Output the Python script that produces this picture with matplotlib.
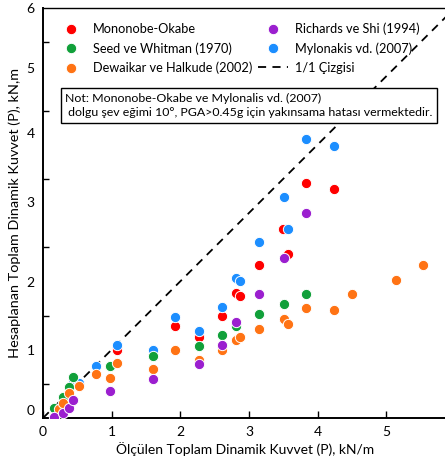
import matplotlib.pyplot as plt
from matplotlib.lines import Line2D

plt.rcParams['font.family'] = ['Lato', 'DejaVu Sans']

mo_x = [1.08, 1.92, 2.27, 2.61, 2.81, 2.87, 3.14, 3.50, 3.57, 3.83, 4.24]
mo_y = [1.00, 1.35, 1.19, 1.49, 1.83, 1.79, 2.24, 2.77, 2.40, 3.44, 3.35]

my_x = [0.44, 0.52, 0.77, 1.08, 1.60, 1.92, 2.27, 2.61, 2.81, 2.87, 3.14, 3.51, 3.57, 3.83, 4.24]
my_y = [0.53, 0.51, 0.76, 1.07, 1.00, 1.48, 1.27, 1.63, 2.05, 2.01, 2.58, 3.24, 2.77, 4.08, 3.98]

sw_x = [0.16, 0.29, 0.38, 0.44, 0.98, 1.60, 2.27, 2.61, 2.81, 3.14, 3.51, 3.83]
sw_y = [0.15, 0.31, 0.45, 0.60, 0.76, 0.91, 1.05, 1.22, 1.35, 1.52, 1.67, 1.82]

dh_x = [0.23, 0.29, 0.38, 0.52, 0.77, 0.98, 1.08, 1.60, 1.92, 2.27, 2.61, 2.81, 2.87,
        3.14, 3.51, 3.57, 3.83, 4.24, 4.50, 5.14, 5.53]
dh_y = [0.13, 0.22, 0.37, 0.47, 0.64, 0.59, 0.81, 0.72, 1.00, 0.85, 1.00, 1.14, 1.19,
        1.30, 1.45, 1.38, 1.61, 1.58, 1.81, 2.02, 2.24]

rs_x = [0.16, 0.29, 0.38, 0.44, 0.98, 1.60, 2.27, 2.61, 2.81, 3.14, 3.51, 3.83]
rs_y = [0.01, 0.07, 0.15, 0.26, 0.40, 0.57, 0.79, 1.07, 1.41, 1.82, 2.34, 3.00]

# y labels sit slightly off the integer values in the original
ytick_pos = [0.12, 1.0, 1.99, 3.16, 4.17, 5.12, 6.0]
ytick_lab = ["0", "1", "2", "3", "4", "5", "6"]
xtick_pos = [0, 1, 2, 3, 4, 5]

red = "#FF0000"
green = "#11A03A"
orange = "#FF7314"
purple = "#9B1FCF"
blue = "#1C8EFF"

fig = plt.figure(figsize=(4.45, 4.63), dpi=100)
ax = fig.add_axes([43 / 445, 45 / 463, 405 / 445, 410 / 463])

ax.plot([0, 6], [0, 6], ls=(0, (4.5, 3.5)), color="black", lw=1.3, zorder=1)

kw = dict(s=55, edgecolors="white", linewidths=0.7)
ax.scatter(mo_x, mo_y, color=red, zorder=2, **kw)
ax.scatter(my_x, my_y, color=blue, zorder=3, **kw)
ax.scatter(sw_x, sw_y, color=green, zorder=4, **kw)
ax.scatter(dh_x, dh_y, color=orange, zorder=5, **kw)
ax.scatter(rs_x, rs_y, color=purple, zorder=6, **kw)

ax.set_xlim(0, 5.9)
ax.set_ylim(0, 6)

ax.set_xticks(xtick_pos)
ax.tick_params(axis="x", direction="in", length=5, width=1, labelsize=10, pad=6)
ax.set_yticks(ytick_pos)
ax.set_yticklabels(ytick_lab)
ax.set_yticks([0.5, 1.5, 2.5, 3.5, 4.5, 5.5], minor=True)
ax.tick_params(axis="y", which="major", length=0, labelsize=10, pad=6)
ax.tick_params(axis="y", which="minor", direction="in", length=4, width=1)

ax.spines["right"].set_visible(False)
ax.spines["left"].set_linewidth(1.4)
ax.spines["bottom"].set_linewidth(1.4)
ax.spines["top"].set_linewidth(1.0)

ax.set_xlabel("Ölçülen Toplam Dinamik Kuvvet (P), kN/m", fontsize=10, labelpad=3)
ax.set_ylabel("Hesaplanan Toplam Dinamik Kuvvet (P), kN,m", fontsize=10.4, labelpad=4)

def dot(c):
    return Line2D([], [], ls="none", marker="o", markersize=7.5, color=c,
                  markeredgecolor="white", markeredgewidth=0.7)

handles = [dot(red), dot(green), dot(orange), dot(purple), dot(blue),
           Line2D([], [], ls=(0, (4.5, 3.5)), color="black", lw=1.3)]
labels = ["Mononobe-Okabe", "Seed ve Whitman (1970)", "Dewaikar ve Halkude (2002)",
          "Richards ve Shi (1994)", "Mylonakis vd. (2007)", "1/1 Çizgisi"]
ax.legend(handles, labels, ncol=2, loc="upper left", bbox_to_anchor=(0.02, 0.977),
          frameon=False, fontsize=9.2, handlelength=2.3, handletextpad=0.6,
          columnspacing=0.45, labelspacing=0.56, borderaxespad=0)

ax.text(0.055, 0.762,
        "Not: Mononobe-Okabe ve Mylonalis vd. (2007)\n dolgu şev eğimi 10°, PGA>0.45g için yakınsama hatası vermektedir.",
        transform=ax.transAxes, ha="left", va="center", fontsize=8.9, linespacing=1.4,
        zorder=10,
        bbox=dict(boxstyle="square,pad=0.35", fc="white", ec="black", lw=1))

fig.savefig("out.png", dpi=100)
